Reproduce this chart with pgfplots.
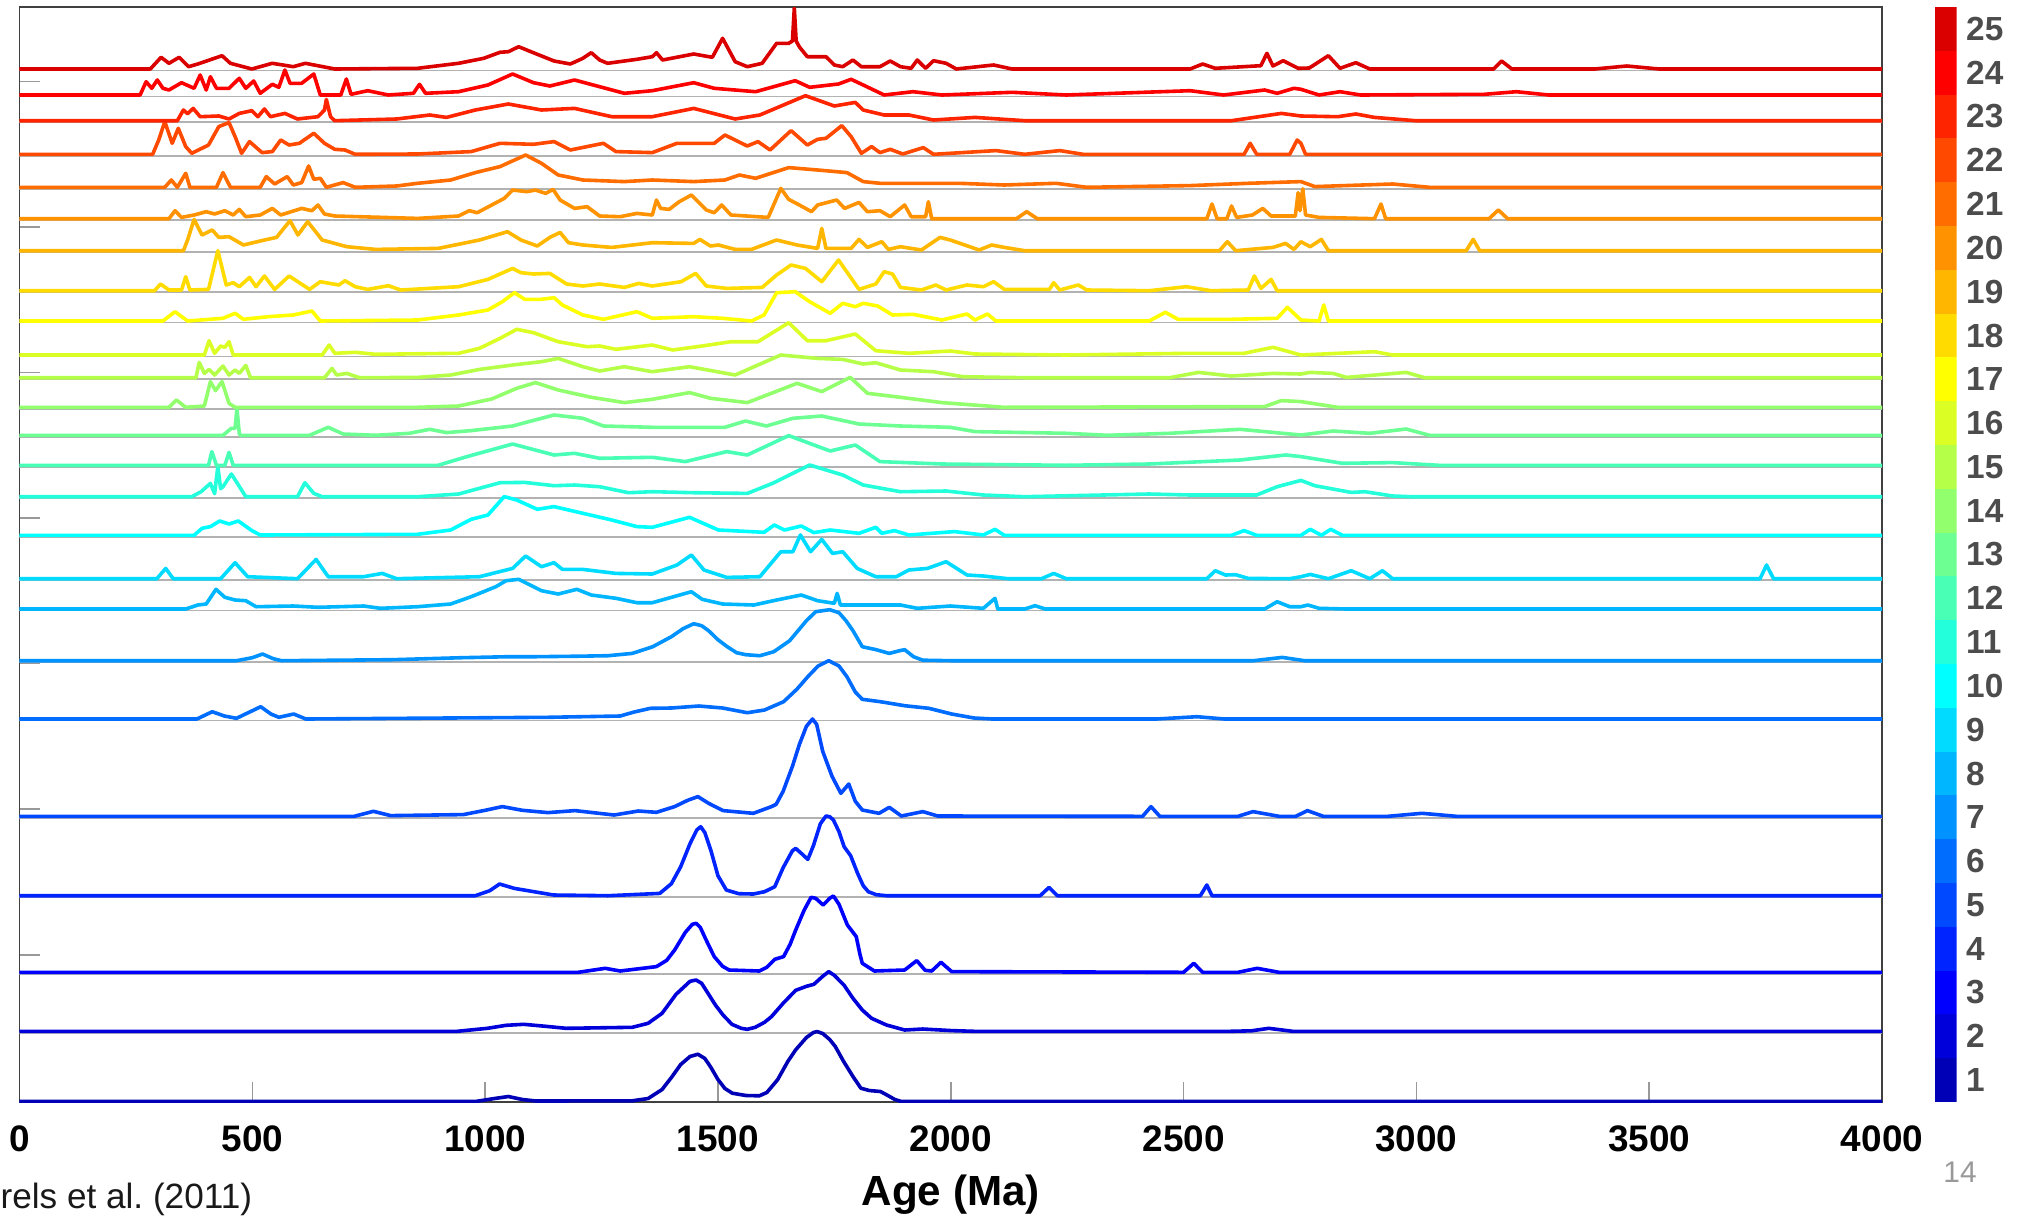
\documentclass[border=0pt]{standalone}
\usepackage{fontspec}
\setmainfont{Liberation Sans}
\usepackage{pgfplots}
\pgfplotsset{compat=1.18}
\definecolor{c1}{rgb}{0,0,0.714}
\definecolor{c2}{rgb}{0,0,0.857}
\definecolor{c3}{rgb}{0,0,1}
\definecolor{c4}{rgb}{0,0.143,1}
\definecolor{c5}{rgb}{0,0.286,1}
\definecolor{c6}{rgb}{0,0.429,1}
\definecolor{c7}{rgb}{0,0.571,1}
\definecolor{c8}{rgb}{0,0.714,1}
\definecolor{c9}{rgb}{0,0.857,1}
\definecolor{c10}{rgb}{0,1,1}
\definecolor{c11}{rgb}{0.143,1,0.857}
\definecolor{c12}{rgb}{0.286,1,0.714}
\definecolor{c13}{rgb}{0.429,1,0.571}
\definecolor{c14}{rgb}{0.571,1,0.429}
\definecolor{c15}{rgb}{0.714,1,0.286}
\definecolor{c16}{rgb}{0.857,1,0.143}
\definecolor{c17}{rgb}{1,1,0}
\definecolor{c18}{rgb}{1,0.857,0}
\definecolor{c19}{rgb}{1,0.714,0}
\definecolor{c20}{rgb}{1,0.571,0}
\definecolor{c21}{rgb}{1,0.429,0}
\definecolor{c22}{rgb}{1,0.286,0}
\definecolor{c23}{rgb}{1,0.143,0}
\definecolor{c24}{rgb}{1,0,0}
\definecolor{c25}{rgb}{0.857,0,0}
\begin{document}
\begin{tikzpicture}
\useasboundingbox (0,0) rectangle (202.1mm,121.7mm);
\clip (0,0) rectangle (202.1mm,121.7mm);
\begin{axis}[
  at={(1.95mm,11.5mm)}, anchor=south west, scale only axis,
  width=186.25mm, height=109.5mm,
  xmin=0, xmax=4000, ymin=0, ymax=1095,
  xtick={0,500,1000,1500,2000,2500,3000,3500,4000},
  xticklabels={0,500,1000,1500,2000,2500,3000,3500,4000},
  ytick={1.5,147,293,438.5,584,729.5,875,1020.5}, yticklabels={},
  tick align=inside, xtick pos=lower, ytick pos=left,
  major tick length=2mm, tick style={gray!80, line width=0.15mm},
  xticklabel style={font=\fontsize{10.5}{12}\selectfont\bfseries, anchor=base, yshift=-4.9mm},
  /pgf/number format/assume math mode=true,
  xlabel={Age (Ma)},
  xlabel style={font=\fontsize{12}{14}\selectfont\bfseries, anchor=base, at={(axis description cs:0.5,0)}, yshift=-10.3mm},
  axis line style={black!75, line width=0.15mm},
  every axis plot/.append style={line width=0.36mm, line join=round, mark=none},
]
\pgfplotsinvokeforeach{69.2,128.2,204.8,284.2,381.5,439.8,491.5,521.8,565.2,603.8,635.2,665.2,693.2,722.8,745.5,779.5,809.8,849.8,881.8,913.2,946.2,979.8,1005.5,1031.5}{
  \addplot[gray!60, line width=0.18mm] coordinates {(0,#1) (4000,#1)};
}
% curve 1
\addplot[c1, y filter/.expression={y+0.5}] coordinates {(0,0)(979,0)(1020,3)(1050,5)(1080,2)(1109,0.5)(1316,0.7)(1350,3)(1380,12)(1400,24)(1420,37)(1440,45)(1457,47.3)(1472,43)(1485,34)(1500,22)(1515,13)(1531,8.3)(1560,6)(1589,5.7)(1605,9)(1628,21.7)(1650,40)(1667,51.7)(1690,64)(1705,69)(1713,70)(1725,68)(1740,62)(1752,55)(1770,40)(1790,25)(1807,13.3)(1825,11)(1849,10)(1865,6)(1880,2)(1894,0)(4000,0)};
% curve 2
\addplot[c2, y filter/.expression={y+70.7}] coordinates {(0,0)(940,0)(1005,3)(1045,6)(1083,7)(1130,5)(1174,3)(1316,4)(1350,8)(1380,18)(1410,37)(1440,50)(1453,51.3)(1465,48)(1480,37)(1495,26)(1511,16.3)(1530,7)(1550,3)(1563,2)(1580,4)(1600,9)(1615,14.7)(1640,28)(1667,41)(1690,45)(1706,47)(1725,55)(1738,59.7)(1750,56)(1771,46)(1790,33)(1810,21.3)(1830,13)(1862,6.3)(1901,1.3)(1940,2.3)(2002,0.7)(2050,0)(2600,0)(2646,0.5)(2683,3)(2734,0)(4000,0)};
% curve 3
\addplot[c3, y filter/.expression={y+129.7}] coordinates {(0,0)(1200,0)(1258,4)(1290,1.3)(1368,5.7)(1390,12)(1407,22.3)(1430,40)(1445,48)(1453,49)(1462,45)(1475,32)(1492,15.7)(1510,6)(1524,2.3)(1589,1.3)(1605,5)(1622,13)(1641,15.7)(1655,28)(1667,42.3)(1685,62)(1700,75)(1710,74)(1726,67.3)(1740,74)(1748,76.3)(1760,68)(1778,47.3)(1797,35.7)(1805,18)(1810,9)(1836,1.3)(1901,2.3)(1927,11.7)(1945,2)(1959,1.3)(1979,10)(2002,0.7)(2500,0)(2522,9)(2541,0)(2617,0)(2658,4)(2705,0)(4000,0)};
% curve 4
\addplot[c4, y filter/.expression={y+206.3}] coordinates {(0,0)(979,0)(1010,5)(1031,11.7)(1063,7.3)(1147,0.7)(1264,0)(1375,2.3)(1400,12)(1420,29)(1440,52)(1455,66)(1463,69)(1472,63)(1485,45)(1500,20)(1518,5.7)(1545,2)(1576,1.7)(1600,4)(1622,9)(1640,28)(1660,45)(1667,47.3)(1680,42)(1693,36.3)(1705,50)(1720,72)(1732,79.7)(1740,79)(1748,75.7)(1760,64)(1771,49)(1785,40)(1800,22.3)(1812,10)(1823,4)(1840,1)(1862,0)(2192,0)(2211,8.3)(2229,0)(2536,0)(2550,10.7)(2561,0)(4000,0)};
% curve 5
\addplot[c5, y filter/.expression={y+285.7}] coordinates {(0,0)(719,0)(760,5)(797,0.7)(953,1.7)(1000,6)(1037,9.7)(1080,6)(1135,3.7)(1193,5.7)(1277,1.3)(1329,5.3)(1368,4)(1407,9.7)(1435,16)(1457,19.7)(1480,13)(1511,5.7)(1576,3)(1615,9.7)(1625,12)(1640,25)(1660,50)(1675,72)(1690,90)(1703,97.3)(1712,92)(1725,65)(1745,40)(1764,23)(1781,32.3)(1795,15)(1810,6.3)(1846,3)(1868,9)(1894,0.3)(1940,4.7)(1972,0.3)(2412,0)(2430,9.7)(2449,0)(2617,0)(2649,4.7)(2705,0)(2741,0)(2766,5.7)(2800,0)(2939,0)(3012,3)(3086,0)(4000,0)};
% curve 6
\addplot[c6, y filter/.expression={y+383}] coordinates {(0,0)(381,0)(414,7.3)(440,3)(466,0.7)(518,12.3)(540,5)(557,1.7)(589,5)(615,0)(1135,1.7)(1290,3)(1320,7)(1355,10.7)(1400,11)(1459,13)(1510,11)(1563,6.3)(1600,9)(1641,17.3)(1670,30)(1693,42.3)(1715,53)(1738,58.3)(1760,53)(1777,42.3)(1795,27)(1810,19.7)(1849,17.3)(1901,13.3)(1953,10.7)(2002,5)(2050,1)(2090,0)(2441,0)(2529,2.3)(2588,0)(4000,0)};
% curve 7
\addplot[c7, y filter/.expression={y+441.3}] coordinates {(0,0)(466,0)(500,3)(522,6.7)(545,2)(563,0)(800,1)(950,3)(1050,4)(1109,4)(1200,4.5)(1264,5)(1316,7.3)(1360,14)(1400,24)(1425,32)(1448,37)(1465,35)(1480,30)(1500,21)(1520,14)(1540,8)(1560,6)(1590,5)(1620,9)(1654,20)(1690,40)(1710,49)(1740,51)(1760,48)(1775,40)(1790,30)(1810,14)(1840,11)(1868,7.3)(1890,10)(1901,11)(1920,4)(1940,0.5)(2000,0)(2650,0)(2712,3.3)(2760,0)(4000,0)};
% curve 8
\addplot[c8, y filter/.expression={y+493}] coordinates {(0,0)(357,0)(383,4)(401,5)(422,19.7)(441,11.7)(463,9)(486,8.3)(508,2.3)(588,3)(641,1.7)(739,3)(775,0.7)(855,2.3)(926,5)(970,12.3)(1023,22.3)(1045,28.3)(1072,29.7)(1121,18.3)(1157,15)(1197,19.7)(1228,14)(1281,10.7)(1326,6.3)(1359,6.3)(1443,17.3)(1466,9.7)(1510,5)(1577,4)(1626,9)(1679,14)(1714,8.3)(1750,5.7)(1756,15.7)(1763,4)(1892,4)(1928,0.7)(1999,3)(2070,0.7)(2095,10.7)(2101,0)(2159,0)(2181,3.3)(2203,0)(2674,0)(2701,7.3)(2728,2.3)(2752,2.3)(2767,4)(2791,0.7)(2850,0)(4000,0)};
% curve 9
\addplot[c9, y filter/.expression={y+523.3}] coordinates {(0,0)(295,0)(314,10.3)(330,0)(432,0)(463,16)(490,2)(597,0)(637,19.3)(663,2)(739,2)(779,5.3)(810,0)(988,2)(1059,10.3)(1087,22.7)(1121,12)(1148,16)(1166,9.3)(1210,9.3)(1281,5.3)(1359,4.7)(1412,13.7)(1443,23.7)(1470,8.7)(1519,1.3)(1590,2)(1635,27)(1661,27)(1677,43.7)(1699,27)(1723,39.3)(1746,25.3)(1768,27)(1799,10.3)(1839,2)(1883,2)(1910,8.7)(1950,10.3)(1990,17)(2035,3.7)(2070,2.7)(2123,0)(2195,0)(2221,5.3)(2248,0)(2550,0)(2568,8)(2590,3.7)(2612,4)(2639,0.3)(2728,0)(2752,2)(2772,4.3)(2811,0)(2860,8)(2900,0)(2927,8)(2949,0)(3738,0)(3752,13.7)(3767,0)(4000,0)};
% curve 10
\addplot[c10, y filter/.expression={y+566.7}] coordinates {(0,0)(375,0)(392,7)(410,8.7)(430,14.3)(450,11.3)(470,14.3)(499,4.7)(517,0.3)(855,1)(926,5.3)(970,16)(1006,20.3)(1041,38.7)(1068,35.3)(1112,26)(1148,28.7)(1210,22)(1272,15.3)(1326,8.7)(1359,8)(1439,18)(1501,5.3)(1599,3)(1621,10.3)(1643,5.3)(1679,9.3)(1706,2.7)(1741,5.3)(1803,2)(1839,8)(1852,2)(1879,4.7)(1910,0.3)(2008,3.7)(2070,0.3)(2095,6)(2115,0)(2603,0)(2630,4.7)(2657,0)(2752,0)(2772,6)(2796,0)(2816,6)(2841,0)(4000,0)};
% curve 11
\addplot[c11, y filter/.expression={y+605.3}] coordinates {(0,0)(370,0)(390,5)(410,13.3)(419,3)(426,30)(432,8)(437,10)(455,22.7)(468,13.3)(486,0)(597,0)(613,14)(632,3.3)(650,0)(855,0)(943,2.7)(1032,14)(1085,14.3)(1148,11)(1192,11.7)(1246,10)(1308,4)(1359,5)(1448,4)(1563,3.3)(1617,13.3)(1697,31.7)(1768,21.7)(1812,11.7)(1892,5)(1990,5.7)(2070,1.7)(2159,0)(2426,2.7)(2514,1.7)(2657,1.7)(2701,10)(2752,16.3)(2782,11)(2860,4.3)(2890,5)(2949,0.7)(2988,0)(4000,0)};
% curve 12
\addplot[c12, y filter/.expression={y+636.7}] coordinates {(0,0)(406,0)(413,13.7)(423,0)(441,0)(450,13)(459,0)(899,0)(961,8.7)(1059,21.3)(1148,10.3)(1192,12)(1246,7)(1359,8)(1430,3.7)(1519,13.7)(1563,10.3)(1652,29.7)(1741,14.3)(1795,20.3)(1848,3.7)(1981,1.3)(2248,0)(2426,1.3)(2621,5.3)(2719,10.3)(2752,8.7)(2841,2)(2949,2.7)(3048,0)(4000,0)};
% curve 13
\addplot[c13, y filter/.expression={y+666.7}] coordinates {(0,0)(437,0)(455,7)(463,7)(467,27)(472,2)(474,0)(623,0)(663,8)(695,1.3)(765,0)(837,2)(881,6)(917,2.7)(970,4.7)(1059,9.3)(1094,13.7)(1148,20.3)(1210,17)(1254,9.3)(1359,8)(1448,8)(1515,8)(1559,14.3)(1604,9.3)(1661,17)(1723,19.3)(1803,11.3)(1892,9.3)(1999,8)(2052,3.7)(2248,2)(2337,0)(2470,2)(2621,6)(2752,0.3)(2821,4.3)(2900,2)(2978,6.3)(3028,0)(4000,0)};
% curve 14
\addplot[c14, y filter/.expression={y+694.7}] coordinates {(0,0)(321,0)(337,7.3)(357,0)(397,1.3)(410,25.7)(421,16.7)(435,25.7)(450,4)(463,0)(855,0)(943,1.3)(1014,8.3)(1068,19)(1108,24.7)(1157,17.3)(1228,10)(1299,4.7)(1359,8)(1439,14.7)(1484,9)(1563,4.7)(1670,24)(1723,15.7)(1784,30)(1821,14)(1892,10)(1981,4.7)(2115,0)(2674,0.7)(2710,6.7)(2752,5.7)(2831,0)(4000,0)};
% curve 15
\addplot[c15, y filter/.expression={y+724.3}] coordinates {(0,0)(379,0)(386,15.3)(397,4.3)(407,8.3)(419,2.7)(437,11.7)(450,2.7)(463,7.7)(472,4.3)(486,12.3)(496,0)(655,0)(671,9.3)(681,2.7)(703,4.3)(730,0)(855,0.3)(926,2.7)(988,8.3)(1059,12.7)(1121,16)(1157,19.3)(1210,11)(1246,6.7)(1299,11)(1359,6)(1439,11)(1537,2.7)(1635,22.7)(1714,19.3)(1768,18.3)(1812,13.7)(1839,15)(1892,7.7)(1963,6)(2026,1)(2159,0)(2470,0)(2532,5.3)(2603,1.7)(2692,4.3)(2752,3.7)(2772,5.3)(2821,4.3)(2850,0.3)(2978,5.3)(3018,0)(4000,0)};
% curve 16
\addplot[c16, y filter/.expression={y+747}] coordinates {(0,0)(397,0)(407,14.3)(419,1.7)(432,9)(441,7.7)(450,13.3)(459,0)(650,0)(665,10)(677,1.7)(721,2.7)(765,0.7)(943,1.7)(988,6.7)(1032,16.7)(1068,25.7)(1104,22.3)(1157,13.3)(1219,8.3)(1246,9)(1281,5.7)(1359,10)(1403,5)(1466,9)(1528,13.3)(1586,13.3)(1652,32.3)(1692,14.3)(1732,14.3)(1795,21)(1839,4.3)(1910,1.7)(1999,4)(2052,1)(2248,0)(2514,1.7)(2630,1.7)(2692,7.7)(2752,0)(2910,3.3)(2949,0)(4000,0)};
% curve 17
\addplot[c17, y filter/.expression={y+781}] coordinates {(0,0)(308,0)(334,9.3)(361,0)(437,2.7)(463,7.7)(481,1.7)(534,4.3)(588,6)(628,10)(646,0)(855,1)(943,6)(1006,11)(1037,19.3)(1063,28.3)(1085,21.7)(1121,21.7)(1148,23.3)(1166,16)(1210,6)(1254,1.7)(1326,9.3)(1359,2.7)(1448,4.3)(1510,2.7)(1572,0)(1599,6)(1626,28.3)(1666,29.3)(1697,19.3)(1741,7.7)(1768,17.7)(1795,14.3)(1812,17.7)(1843,15)(1875,6)(1919,6.7)(1981,1)(2035,7)(2052,1)(2079,7)(2097,0)(2426,0)(2461,8.7)(2488,1.7)(2603,1.7)(2701,2.7)(2723,13.7)(2752,1)(2791,0)(2801,16)(2811,0)(4000,0)};
% curve 18
\addplot[c18, y filter/.expression={y+811.3}] coordinates {(0,0)(290,0)(303,6.7)(321,0.7)(348,0.7)(357,14)(366,0.7)(406,1.3)(426,40)(444,5.7)(459,8)(472,4)(494,13.3)(508,4)(526,14.7)(548,1.3)(579,14.7)(623,1.3)(646,9)(686,5.7)(699,10)(721,4)(748,1.3)(792,5)(819,0.7)(943,4)(1006,11.3)(1059,22.3)(1077,18)(1104,16.7)(1139,17.3)(1175,6.7)(1210,4.7)(1246,6.7)(1299,3.3)(1330,7.3)(1359,4.7)(1421,9)(1452,17.3)(1475,4.7)(1519,2.3)(1595,3.3)(1626,15.7)(1657,25.7)(1688,22.3)(1723,9)(1759,30.7)(1803,1.3)(1839,6.7)(1857,19)(1875,16.7)(1892,3.3)(1937,0.7)(1968,5.7)(1990,0.7)(2035,5.7)(2070,4)(2092,9)(2115,1.3)(2212,1.3)(2221,8)(2234,0.7)(2274,5.7)(2292,0.7)(2426,0)(2506,4)(2559,0)(2639,0.7)(2652,14.7)(2666,2.3)(2688,11.3)(2701,0)(4000,0)};
% curve 19
\addplot[c19, y filter/.expression={y+851.3}] coordinates {(0,0)(352,0)(361,10.7)(375,31.3)(392,15.7)(414,20.7)(428,13.3)(450,14)(481,5.7)(526,10.7)(552,13.3)(581,30)(598,15.7)(619,29)(650,10.7)(703,4)(765,1.3)(899,2.3)(988,10.7)(1048,19)(1077,10.7)(1112,4.7)(1139,13.3)(1161,18.3)(1179,8)(1210,5.7)(1272,3.3)(1359,8)(1448,7.3)(1461,11.3)(1484,4.7)(1501,5.7)(1537,1.3)(1572,1.3)(1626,10.7)(1670,5.7)(1714,2.3)(1723,22.3)(1732,2.3)(1786,2.3)(1803,11.3)(1821,3.3)(1852,9)(1866,1.3)(1892,4)(1937,0.7)(1977,13.3)(1999,10.7)(2061,0.7)(2088,5.7)(2115,3.3)(2159,0)(2577,0)(2594,9)(2612,0)(2692,3.3)(2719,7.3)(2737,1.3)(2752,9)(2772,4)(2796,11.3)(2811,0)(3107,0)(3122,11.3)(3136,0)(4000,0)};
% curve 20
\addplot[c20, y filter/.expression={y+883.3}] coordinates {(0,0)(321,0)(334,8)(348,1.3)(375,3.7)(401,7)(419,4.7)(441,8)(459,3.7)(472,9.3)(486,2)(517,3.7)(543,10.3)(561,3.7)(606,10.3)(628,8)(641,13.7)(655,4.7)(677,2.7)(855,0.3)(943,2.7)(966,8)(983,6)(1041,20.3)(1059,28.7)(1090,27)(1108,28.7)(1130,25.3)(1146,29.3)(1161,18.7)(1192,10.3)(1219,12)(1246,2.7)(1290,2)(1326,5.3)(1359,3.7)(1368,18.7)(1377,10.3)(1395,9.3)(1417,17)(1443,23.7)(1475,8.7)(1492,6)(1508,13.7)(1528,3.7)(1608,1.3)(1635,30.3)(1652,19.3)(1675,13.7)(1701,7)(1714,13.7)(1755,18.7)(1772,10.3)(1803,16.3)(1821,7)(1848,8)(1870,2)(1901,13.7)(1915,2)(1946,2)(1952,17)(1959,0)(2141,0)(2163,7)(2186,0)(2550,0)(2561,14.7)(2572,0)(2593,0)(2603,12.7)(2614,1.3)(2648,3.7)(2670,10.3)(2688,2.7)(2740,2.7)(2746,26)(2750,8)(2756,30)(2762,3.7)(2791,1.3)(2910,0)(2924,14.7)(2934,0)(3156,0)(3176,8.7)(3196,0)(4000,0)};
% curve 21
\addplot[c21, y filter/.expression={y+914.7}] coordinates {(0,0)(312,0)(326,7.3)(339,0)(357,14)(366,0)(423,0)(437,14.7)(453,0)(517,0)(530,10.7)(548,3.3)(575,10.7)(588,2.3)(606,4.7)(621,21.3)(632,8)(646,9)(659,0)(695,4.7)(721,0)(810,1.3)(855,4)(926,7.3)(979,14.7)(1032,20.7)(1087,32.3)(1121,24)(1157,12.3)(1210,7.3)(1299,5.7)(1359,7.3)(1448,5.7)(1515,7.3)(1546,12.3)(1581,9)(1652,19.7)(1714,17.3)(1777,14.7)(1812,5.7)(1848,4)(1937,4)(2017,4)(2115,2.3)(2226,4)(2292,0)(2514,1.7)(2639,4)(2752,5.7)(2782,0.7)(2949,3.3)(3028,0)(4000,0)};
% curve 22
\addplot[c22, y filter/.expression={y+947.7}] coordinates {(0,0)(286,0)(299,14.3)(312,32.7)(328,11)(341,26)(357,7.7)(370,1)(406,9.3)(428,27.7)(450,31.7)(463,17.7)(477,1)(494,12.7)(521,1.7)(543,2.7)(561,14.3)(579,9.3)(601,11)(632,21)(655,11)(677,5)(699,4.3)(721,0)(855,0.3)(970,2.7)(1032,11)(1104,10)(1148,12.7)(1183,4.3)(1254,11)(1281,2.7)(1359,1.7)(1412,11)(1492,11)(1515,19.3)(1563,8.3)(1586,12.7)(1612,4.3)(1657,23.7)(1692,9.3)(1714,15)(1732,16)(1766,28.7)(1786,17.7)(1808,1)(1830,7.7)(1848,1.7)(1870,5)(1897,0.3)(1941,6.7)(1963,0)(2097,3.7)(2159,0)(2234,3.7)(2284,0)(2630,0)(2643,11)(2657,0)(2728,0)(2744,14.3)(2752,11)(2762,0)(4000,0)};
% curve 23
\addplot[c23, y filter/.expression={y+981.3}] coordinates {(0,0)(339,0)(352,10.7)(361,7)(373,12.3)(388,4)(428,4.7)(450,1.7)(472,7.3)(499,10)(512,4)(526,11.7)(539,4)(570,7.3)(597,1.7)(641,4)(655,10.7)(659,21.3)(668,4)(677,0)(810,1.7)(881,5.7)(917,3.3)(979,10.7)(1050,16.7)(1121,10.7)(1192,12.3)(1272,4)(1359,4)(1448,12.3)(1537,1.7)(1590,5.7)(1688,25)(1750,14.7)(1795,18.3)(1812,10.7)(1857,5.7)(1910,5.7)(1963,0.7)(2052,3.3)(2159,0)(2603,0)(2710,7.3)(2752,4.7)(2831,4)(2870,6.7)(2910,3.3)(2998,0)(4000,0)};
% curve 24
\addplot[c24, y filter/.expression={y+1007}] coordinates {(0,0)(259,0)(272,13.3)(284,6.7)(296,15)(308,6.7)(321,5)(348,12.3)(375,6.7)(388,20)(401,5)(410,18.3)(423,6.7)(450,6.7)(472,16.7)(486,6.7)(503,14)(517,1.7)(543,10.7)(557,7.7)(570,25)(581,11.7)(606,11.7)(632,21)(646,0)(690,0)(702,16)(712,0.7)(748,4.3)(792,0)(846,1.7)(859,10.7)(872,1.7)(943,3.3)(1006,10)(1059,21)(1104,12.3)(1139,9)(1192,15)(1246,8.3)(1299,1.7)(1359,4.3)(1448,12.3)(1492,6.7)(1581,3.3)(1666,14.3)(1697,7.7)(1759,11)(1786,15.7)(1812,10)(1857,0)(1919,3.3)(1981,0)(2132,2.7)(2248,0)(2514,4.3)(2586,0)(2674,5)(2701,1.7)(2737,6.7)(2752,5.7)(2791,0)(2836,3.3)(2880,0)(3146,0.7)(3215,3.3)(3284,0)(4000,0)};
% curve 25
\addplot[c25, y filter/.expression={y+1033}] coordinates {(0,0)(281,0)(304,11.7)(321,5.7)(343,11.7)(363,2.3)(383,5)(435,13.3)(453,5.7)(499,0)(543,5.7)(588,2.3)(614,5.7)(677,0)(855,0.7)(943,5.7)(997,10.7)(1032,16.7)(1050,17.3)(1072,22.3)(1112,14.7)(1148,8)(1183,5)(1210,10.7)(1228,16.3)(1246,9)(1263,5.7)(1326,9.7)(1359,12.3)(1368,16.3)(1381,9)(1448,15)(1488,11.7)(1510,30.7)(1537,7.3)(1563,2.3)(1595,5.7)(1626,25.7)(1652,25.7)(1660,28)(1664,61)(1668,28)(1675,22)(1692,12.3)(1732,12.3)(1750,4)(1768,2.3)(1790,9)(1808,2.3)(1848,2.3)(1870,8)(1892,2.3)(1915,0.7)(1928,9)(1946,0.7)(1963,8.3)(1990,5.7)(2012,0)(2092,4)(2132,0)(2514,0)(2541,5)(2568,0.7)(2666,3.3)(2679,15.7)(2692,3)(2714,8.3)(2746,0.7)(2770,1)(2811,13.3)(2836,0.7)(2870,6.3)(2900,0)(3166,0)(3183,8)(3205,0)(3383,0)(3452,3)(3521,0)(4000,0)};
\end{axis}
% colour bar
\begin{axis}[
  at={(193.5mm,11.5mm)}, anchor=south west, scale only axis,
  width=2.15mm, height=109.5mm,
  xmin=0, xmax=1, ymin=0.5, ymax=25.5,
  axis line style={draw=none}, xtick=\empty,
  ytick={1,2,3,4,5,6,7,8,9,10,11,12,13,14,15,16,17,18,19,20,21,22,23,24,25},
  yticklabel pos=right, ytick pos=right, major tick length=0pt,
  yticklabel style={font=\fontsize{9.5}{11}\selectfont\bfseries, text=black!70, anchor=west, inner sep=0pt, xshift=0.9mm},
  /pgf/number format/assume math mode=true,
]
\addplot[fill=c1, draw=none] coordinates {(0,0.5)(1,0.5)(1,1.5)(0,1.5)};
\addplot[fill=c2, draw=none] coordinates {(0,1.5)(1,1.5)(1,2.5)(0,2.5)};
\addplot[fill=c3, draw=none] coordinates {(0,2.5)(1,2.5)(1,3.5)(0,3.5)};
\addplot[fill=c4, draw=none] coordinates {(0,3.5)(1,3.5)(1,4.5)(0,4.5)};
\addplot[fill=c5, draw=none] coordinates {(0,4.5)(1,4.5)(1,5.5)(0,5.5)};
\addplot[fill=c6, draw=none] coordinates {(0,5.5)(1,5.5)(1,6.5)(0,6.5)};
\addplot[fill=c7, draw=none] coordinates {(0,6.5)(1,6.5)(1,7.5)(0,7.5)};
\addplot[fill=c8, draw=none] coordinates {(0,7.5)(1,7.5)(1,8.5)(0,8.5)};
\addplot[fill=c9, draw=none] coordinates {(0,8.5)(1,8.5)(1,9.5)(0,9.5)};
\addplot[fill=c10, draw=none] coordinates {(0,9.5)(1,9.5)(1,10.5)(0,10.5)};
\addplot[fill=c11, draw=none] coordinates {(0,10.5)(1,10.5)(1,11.5)(0,11.5)};
\addplot[fill=c12, draw=none] coordinates {(0,11.5)(1,11.5)(1,12.5)(0,12.5)};
\addplot[fill=c13, draw=none] coordinates {(0,12.5)(1,12.5)(1,13.5)(0,13.5)};
\addplot[fill=c14, draw=none] coordinates {(0,13.5)(1,13.5)(1,14.5)(0,14.5)};
\addplot[fill=c15, draw=none] coordinates {(0,14.5)(1,14.5)(1,15.5)(0,15.5)};
\addplot[fill=c16, draw=none] coordinates {(0,15.5)(1,15.5)(1,16.5)(0,16.5)};
\addplot[fill=c17, draw=none] coordinates {(0,16.5)(1,16.5)(1,17.5)(0,17.5)};
\addplot[fill=c18, draw=none] coordinates {(0,17.5)(1,17.5)(1,18.5)(0,18.5)};
\addplot[fill=c19, draw=none] coordinates {(0,18.5)(1,18.5)(1,19.5)(0,19.5)};
\addplot[fill=c20, draw=none] coordinates {(0,19.5)(1,19.5)(1,20.5)(0,20.5)};
\addplot[fill=c21, draw=none] coordinates {(0,20.5)(1,20.5)(1,21.5)(0,21.5)};
\addplot[fill=c22, draw=none] coordinates {(0,21.5)(1,21.5)(1,22.5)(0,22.5)};
\addplot[fill=c23, draw=none] coordinates {(0,22.5)(1,22.5)(1,23.5)(0,23.5)};
\addplot[fill=c24, draw=none] coordinates {(0,23.5)(1,23.5)(1,24.5)(0,24.5)};
\addplot[fill=c25, draw=none] coordinates {(0,24.5)(1,24.5)(1,25.5)(0,25.5)};
\end{axis}
\node[font=\fontsize{8.5}{10}\selectfont, text=black!40] at (196mm,4.5mm) {14};
\node[font=\fontsize{10}{12}\selectfont, anchor=base west, inner sep=0pt, text=black!90] at (0mm,0.9mm) {rels et al.\ (2011)};
\end{tikzpicture}
\end{document}
